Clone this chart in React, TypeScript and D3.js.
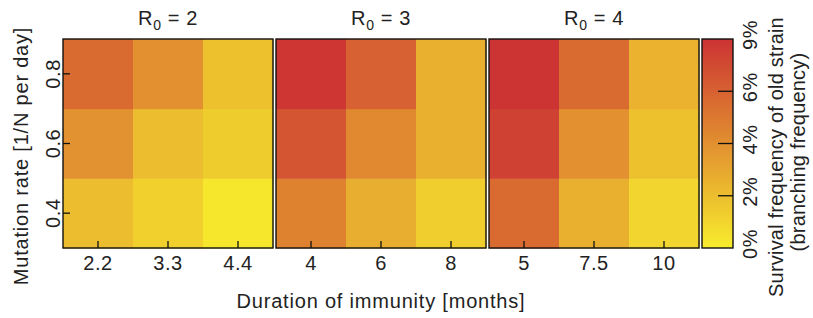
import React from "react";
import * as d3 from "d3";

// survival frequency of the old strain (%), rows = mutation rate, cols = duration of immunity
const r0Values = [2, 3, 4];
const mutationRates = [0.4, 0.6, 0.8];
const mutationLabels = ["0.4", "0.6", "0.8"];
const immunityLabels = [
  ["2.2", "3.3", "4.4"],
  ["4", "6", "8"],
  ["5", "7.5", "10"],
];

// [mutation 0.4, 0.6, 0.8] x [short, mid, long immunity]
const survivalR2 = [
  [2.0, 1.2, 0.2],
  [3.9, 2.0, 1.4],
  [5.6, 4.0, 1.9],
];
const survivalR3 = [
  [4.6, 2.7, 1.3],
  [6.8, 4.3, 2.6],
  [8.8, 6.0, 2.6],
];
const survivalR4 = [
  [5.6, 2.6, 1.0],
  [8.1, 4.0, 1.9],
  [9.0, 5.6, 2.5],
];
const panels = [survivalR2, survivalR3, survivalR4];

const colorTicks = [0, 2, 4, 6, 9];
const colorTickLabels = ["0%", "2%", "4%", "6%", "9%"];

const width = 813;
const height = 318;
const top = 39;
const bottom = 248;
const panelW = 210;
const panelGap = 3;
const left = 63;
const cbW = 31;
const font = "'Liberation Sans', Arial, Helvetica, sans-serif";

const t = d3.scaleLinear().domain(colorTicks).range([0, 0.25, 0.5, 0.75, 1]).clamp(true);
const interp = d3.interpolateRgb("#f7ec2d", "#cc3333");
const color = (v: number) => interp(t(v));

const yBand = d3.scaleBand<number>().domain([...mutationRates].reverse()).range([top, bottom]);

export default function App() {
  const cbX = left + 3 * (panelW + panelGap);
  const cbY = d3.scaleLinear().domain([0, 1]).range([bottom, top]);
  const stops = d3.range(0, 1.0001, 0.05);

  return (
    <svg width={width} height={height} style={{ position: "absolute", left: 0, top: 0, fontFamily: font }}>
      <defs>
        <linearGradient id="cbgrad" x1="0" y1="1" x2="0" y2="0">
          {stops.map((s) => (
            <stop key={s} offset={s} stopColor={interp(s)} />
          ))}
        </linearGradient>
      </defs>

      {panels.map((data, p) => {
        const x0 = left + p * (panelW + panelGap);
        const xBand = d3.scaleBand<number>().domain([0, 1, 2]).range([x0, x0 + panelW]);
        return (
          <g key={p}>
            {data.map((row, ri) =>
              row.map((v, ci) => (
                <rect
                  key={ri + "-" + ci}
                  x={xBand(ci)}
                  y={yBand(mutationRates[ri])}
                  width={xBand.bandwidth() + 0.5}
                  height={yBand.bandwidth() + 0.5}
                  fill={color(v)}
                />
              ))
            )}
            <rect x={x0} y={top} width={panelW} height={bottom - top} fill="none" stroke="#111" strokeWidth={1.4} />
            {immunityLabels[p].map((lab, ci) => {
              const cx = xBand(ci)! + xBand.bandwidth() / 2;
              return (
                <g key={lab}>
                  <line x1={cx} x2={cx} y1={bottom} y2={bottom - 7} stroke="#111" strokeWidth={1.3} />
                  <text x={cx} y={270} textAnchor="middle" fontSize={20} letterSpacing={0.6} fill="#222">
                    {lab}
                  </text>
                </g>
              );
            })}
            <text x={x0 + panelW / 2} y={25} textAnchor="middle" fontSize={20} letterSpacing={0.6} fill="#222">
              R<tspan fontSize={14} dy={5}>0</tspan>
              <tspan dy={-5}> = {r0Values[p]}</tspan>
            </text>
          </g>
        );
      })}

      {mutationRates.map((m, i) => {
        const cy = yBand(m)! + yBand.bandwidth() / 2;
        return (
          <g key={m}>
            <line x1={left} x2={left + 7} y1={cy} y2={cy} stroke="#111" strokeWidth={1.3} />
            <text
              transform={`translate(60,${cy}) rotate(-90)`}
              textAnchor="middle"
              fontSize={20}
              letterSpacing={0.6}
              fill="#222"
            >
              {mutationLabels[i]}
            </text>
          </g>
        );
      })}

      {/* colour bar */}
      <rect x={cbX} y={top} width={cbW} height={bottom - top} fill="url(#cbgrad)" stroke="#111" strokeWidth={1.4} />
      {colorTicks.map((v, i) => {
        const y = cbY(t(v));
        return (
          <g key={v}>
            {i > 0 && i < colorTicks.length - 1 && (
              <line x1={cbX + cbW} x2={cbX + cbW - 15} y1={y} y2={y} stroke="#111" strokeWidth={1.3} />
            )}
            <text
              transform={`translate(757,${y - 4}) rotate(-90)`}
              textAnchor="middle"
              fontSize={20}
              letterSpacing={0.6}
              fill="#222"
            >
              {colorTickLabels[i]}
            </text>
          </g>
        );
      })}

      <text
        transform={`translate(783,157) rotate(-90)`}
        textAnchor="middle"
        fontSize={20}
        letterSpacing={0.2}
        fill="#222"
      >
        Survival frequency of old strain
      </text>
      <text
        transform={`translate(805,152) rotate(-90)`}
        textAnchor="middle"
        fontSize={20}
        letterSpacing={0.2}
        fill="#222"
      >
        (branching frequency)
      </text>

      <text x={381} y={308} textAnchor="middle" fontSize={20} letterSpacing={0.8} fill="#222">
        Duration of immunity [months]
      </text>
      <text
        transform={`translate(28,156) rotate(-90)`}
        textAnchor="middle"
        fontSize={20}
        letterSpacing={0.8}
        fill="#222"
      >
        Mutation rate [1/N per day]
      </text>
    </svg>
  );
}
